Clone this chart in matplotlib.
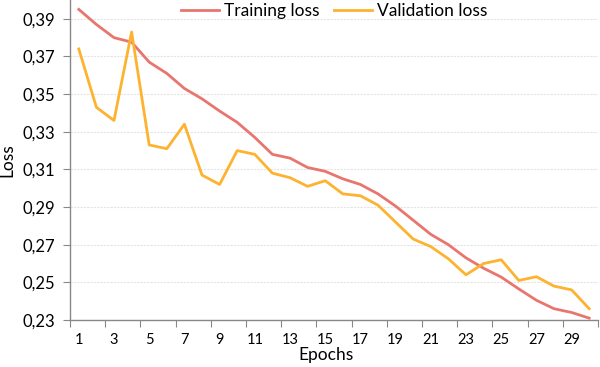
import numpy as np
import matplotlib.pyplot as plt
from matplotlib.ticker import FixedLocator, FuncFormatter

epochs = list(range(1, 31))
training_loss = [0.395, 0.387, 0.380, 0.3776, 0.367, 0.361, 0.353, 0.3475, 0.341, 0.335,
                 0.327, 0.318, 0.316, 0.311, 0.309, 0.305, 0.302, 0.297, 0.2905, 0.283,
                 0.2755, 0.270, 0.263, 0.2575, 0.2528, 0.2465, 0.2405, 0.236, 0.234, 0.231]
validation_loss = [0.374, 0.343, 0.336, 0.383, 0.323, 0.321, 0.334, 0.307, 0.302, 0.320,
                   0.318, 0.308, 0.3056, 0.301, 0.304, 0.297, 0.296, 0.291, 0.282, 0.273,
                   0.269, 0.2625, 0.254, 0.260, 0.262, 0.251, 0.253, 0.248, 0.246, 0.236]
y_ticks = [0.23, 0.25, 0.27, 0.29, 0.31, 0.33, 0.35, 0.37, 0.39]

plt.rcParams['font.family'] = ['Lato', 'DejaVu Sans']

fig = plt.figure(figsize=(6, 3.67), dpi=100)
ax = fig.add_axes([70 / 600, 1 - 320 / 367, 528 / 600, 320 / 367])

ax.plot(epochs, training_loss, color='#E8766E', lw=2, label='Training loss')
ax.plot(epochs, validation_loss, color='#FDB32F', lw=2, label='Validation loss')

ax.set_xlim(0.5, 30.5)
ax.set_ylim(0.23, 0.40)

# tick marks between categories, labels on odd epochs
ax.xaxis.set_major_locator(FixedLocator(np.arange(0.5, 31, 2)))
ax.xaxis.set_major_formatter(FuncFormatter(lambda v, p: ''))
ax.xaxis.set_minor_locator(FixedLocator(epochs[::2]))
ax.xaxis.set_minor_formatter(FuncFormatter(lambda v, p: f'{int(v)}'))
ax.tick_params(axis='x', which='major', length=5, color='#888888', direction='out')
ax.tick_params(axis='x', which='minor', length=0, pad=9, labelsize=10.5)

ax.set_yticks(y_ticks)
ax.yaxis.set_major_formatter(FuncFormatter(lambda v, p: f'{v:.2f}'.replace('.', ',')))
ax.tick_params(axis='y', length=5, color='#888888', labelsize=12, pad=6)

ax.grid(axis='y', color='#e4e4e4', lw=0.8, linestyle=(0, (2, 1)))
for s in ['top', 'right']:
    ax.spines[s].set_visible(False)
for s in ['left', 'bottom']:
    ax.spines[s].set_color('#888888')
    ax.spines[s].set_linewidth(1)

ax.set_xlabel('Epochs', fontsize=12.5, labelpad=-1)
ax.xaxis.set_label_coords(0.485, -0.085)
ax.set_ylabel('Loss', fontsize=12.5, labelpad=5)

ax.legend(loc='upper center', bbox_to_anchor=(0.5, 1.04), ncol=2, frameon=False,
          fontsize=12.5, handlelength=2.2, columnspacing=0.8, handletextpad=0.3)

fig.savefig('out.png', dpi=100)
